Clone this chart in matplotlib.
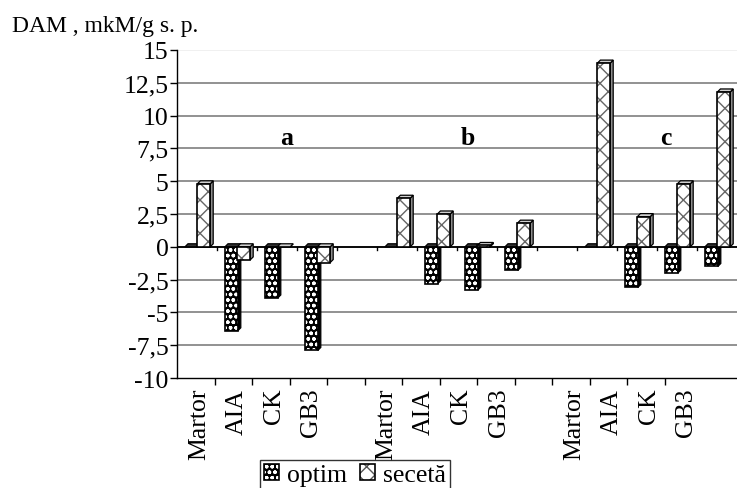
import numpy as np
import matplotlib
matplotlib.use("Agg")
import matplotlib.pyplot as plt
from matplotlib.patches import Polygon, Patch
from matplotlib.legend_handler import HandlerTuple

plt.rcParams['font.family'] = ['Liberation Serif', 'DejaVu Serif']
plt.rcParams['hatch.linewidth'] = 1.0

# ---- data ----
categories = ["Martor", "AIA", "CK", "GB3", "",
              "Martor", "AIA", "CK", "GB3", "",
              "Martor", "AIA", "CK", "GB3"]
optim = [0.0, -6.4, -3.9, -7.9, np.nan,
         0.0, -2.8, -3.3, -1.8, np.nan,
         0.0, -3.1, -2.0, -1.5]
seceta = [4.8, -1.0, 0.0, -1.2, np.nan,
          3.7, 2.5, 0.1, 1.8, np.nan,
          14.0, 2.3, 4.8, 11.8]
yticks = [-10, -7.5, -5, -2.5, 0, 2.5, 5, 7.5, 10, 12.5, 15]
ytick_labels = ["-10", "-7,5", "-5", "-2,5", "0", "2,5", "5", "7,5",
                "10", "12,5", "15"]
group_labels = ["a", "b", "c"]
series_names = ["optim", "secetă"]
title = "DAM , mkM/g s. p."

FS = 18.5

fig = plt.figure(figsize=(7.37, 4.89), dpi=100)
ax = fig.add_axes([177/737, 1 - 379/489, 1 - 177/737, (379 - 51)/489])
n = len(categories)
ax.set_xlim(-0.5, n - 0.5)
ax.set_ylim(-10, 15)

# gridlines
for yv in yticks[1:]:
    ax.axhline(yv, color='#7f7f7f' if yv < 15 else '#eeeeee', lw=1.2, zorder=0.5)
ax.axhline(0, color='black', lw=1.3, zorder=1)

x = np.arange(n)
w = 0.32
dx, dy = 0.075, 0.23

OPT_HATCH = 'ooo'
SEC_HATCH = 'xx'


def draw_bar(xc, h, face, hatch, hatch_col, side_col, top_col, z):
    if np.isnan(h):
        return
    x0, x1 = xc - w / 2, xc + w / 2
    lo, hi = min(0, h), max(0, h)
    side = Polygon([(x1, lo), (x1 + dx, lo + dy), (x1 + dx, hi + dy), (x1, hi)],
                   closed=True, facecolor=side_col, edgecolor='black', lw=0.9, zorder=z)
    top = Polygon([(x0, hi), (x0 + dx, hi + dy), (x1 + dx, hi + dy), (x1, hi)],
                  closed=True, facecolor=top_col, edgecolor='black', lw=0.9, zorder=z)
    ax.add_patch(side)
    ax.add_patch(top)
    if hi - lo > 0:
        ax.bar(xc, h, width=w, color=face, edgecolor=hatch_col, hatch=hatch,
               linewidth=0, zorder=z)
        ax.bar(xc, h, width=w, fill=False, edgecolor='black', linewidth=1.2,
               zorder=z + 0.01)


for i in range(n):
    draw_bar(x[i] - 0.14, optim[i], 'black', OPT_HATCH, 'white', 'black', '#333333', 2 + i * 0.1)
for i in range(n):
    draw_bar(x[i] + 0.17, seceta[i], 'white', SEC_HATCH, '#666666', '#8c8c8c', '#d0d0d0', 2.05 + i * 0.1)

# floor ticks along zero
for k in range(1, n):
    ax.plot([k - 0.5, k - 0.5], [0, -0.28], color='black', lw=1, zorder=1)

# y axis
ax.set_yticks(yticks)
ax.set_yticklabels(ytick_labels, fontsize=FS)
ax.tick_params(axis='y', direction='out', length=5, width=1, pad=1)

# x axis (perspective front edge)
scale = 37.5 / 40
bound = [-0.5 + scale * k for k in range(1, n)]
centers = [-0.5 + scale * (k + 0.5) + 0.08 for k in range(n)]
ax.set_xticks(bound)
ax.set_xticklabels([])
ax.tick_params(axis='x', direction='out', length=5, width=1)
ax.set_xticks(centers, minor=True)
ax.set_xticklabels(categories, minor=True, rotation=90, fontsize=FS)
ax.tick_params(axis='x', which='minor', length=0, pad=7)

for s in ['top', 'right']:
    ax.spines[s].set_visible(False)
ax.spines['left'].set_linewidth(1)
ax.spines['bottom'].set_linewidth(1)

# group labels
for lab, gx in zip(group_labels, [2.25, 6.78, 11.73]):
    ax.text(gx, 8.3, lab, fontsize=FS, fontweight='bold', ha='center', va='center')

fig.text(12/737, 1 - 32/489, title, fontsize=17, va='baseline', ha='left')

handles = [(Patch(facecolor='black', edgecolor='white', hatch=OPT_HATCH, lw=0),
            Patch(fill=False, edgecolor='black', lw=1.2)),
           (Patch(facecolor='white', edgecolor='#555555', hatch=SEC_HATCH, lw=0),
            Patch(fill=False, edgecolor='black', lw=1.2))]
leg = fig.legend(handles, series_names, loc='upper left',
                 bbox_to_anchor=(260/737, 1 - 461/489), ncol=2, fontsize=FS,
                 frameon=True, fancybox=False, edgecolor='black',
                 handlelength=0.6, handleheight=0.6, handletextpad=0.3,
                 columnspacing=0.5, borderpad=0.15, borderaxespad=0,
                 handler_map={tuple: HandlerTuple(ndivide=1, pad=0)})
leg.get_frame().set_linewidth(1)

fig.savefig("out.png", dpi=100)
